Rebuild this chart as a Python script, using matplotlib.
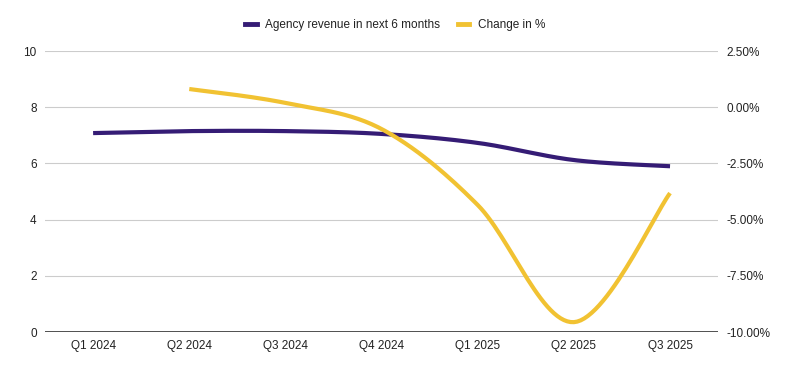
import matplotlib
matplotlib.use('Agg')
import matplotlib.pyplot as plt
import numpy as np
from matplotlib.ticker import FuncFormatter
from matplotlib.lines import Line2D

plt.rcParams['font.family'] = ['Liberation Sans', 'DejaVu Sans']

quarters = ['Q1 2024', 'Q2 2024', 'Q3 2024', 'Q4 2024', 'Q1 2025', 'Q2 2025', 'Q3 2025']
revenue = [7.08, 7.15, 7.15, 7.05, 6.73, 6.12, 5.9]
change = [None, 0.81, 0.19, -0.97, -4.35, -9.56, -3.82]

purple = '#351c75'
yellow = '#f1c232'


def smooth(x, y, n=30):
    # Catmull-Rom style curve through the points (drawing only)
    x = np.asarray(x, float)
    y = np.asarray(y, float)
    xs, ys = [], []
    for i in range(len(x) - 1):
        p0 = (x[i - 1], y[i - 1]) if i > 0 else (x[i], y[i])
        p1 = (x[i], y[i])
        p2 = (x[i + 1], y[i + 1])
        p3 = (x[i + 2], y[i + 2]) if i + 2 < len(x) else (x[i + 1], y[i + 1])
        t = np.linspace(0, 1, n)
        for a in range(2):
            P0, P1, P2, P3 = p0[a], p1[a], p2[a], p3[a]
            v = 0.5 * (2 * P1 + (-P0 + P2) * t + (2 * P0 - 5 * P1 + 4 * P2 - P3) * t ** 2
                       + (-P0 + 3 * P1 - 3 * P2 + P3) * t ** 3)
            (xs if a == 0 else ys).append(v)
    return np.concatenate(xs), np.concatenate(ys)


fig = plt.figure(figsize=(7.9, 3.71), dpi=100)
ax = fig.add_axes([0.057, 0.105, 0.852, 0.7575])
ax2 = ax.twinx()

xi = np.arange(len(quarters))
sx, sy = smooth(xi, revenue)
ax.plot(sx, sy, color=purple, lw=3, solid_capstyle='butt', zorder=3)

cx = [i for i, v in enumerate(change) if v is not None]
cv = [v for v in change if v is not None]
sx2, sy2 = smooth(cx, cv)
ax2.plot(sx2, sy2, color=yellow, lw=3, solid_capstyle='butt', zorder=3)

ax.set_xlim(-0.5, len(quarters) - 0.5)
ax.set_ylim(0, 10)
ax.set_yticks([0, 2, 4, 6, 8, 10])
ax2.set_ylim(-10, 2.5)
ax2.set_yticks([-10, -7.5, -5, -2.5, 0, 2.5])
ax2.yaxis.set_major_formatter(FuncFormatter(lambda v, p: '%.2f%%' % v))

ax.set_xticks(xi)
ax.set_xticklabels(quarters)
ax.grid(axis='y', color='#cccccc', lw=0.8)
ax.set_axisbelow(True)

for a in (ax, ax2):
    for s in a.spines.values():
        s.set_visible(False)
    a.tick_params(length=0, labelsize=8.5, colors='#222222', pad=6)
ax.axhline(0, color='#333333', lw=1.2, zorder=2)

handles = [Line2D([], [], color=purple, lw=3.5), Line2D([], [], color=yellow, lw=3.5)]
fig.legend(handles, ['Agency revenue in next 6 months', 'Change in %'], loc='center',
           bbox_to_anchor=(0.5, 0.933), ncol=2, frameon=False, fontsize=8.5,
           handlelength=1.0, columnspacing=1.5, handletextpad=0.7, labelcolor='#222222')

plt.savefig('out.png', dpi=100)
